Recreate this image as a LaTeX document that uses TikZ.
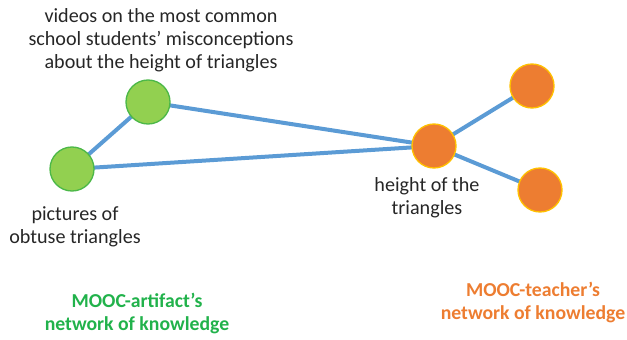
\documentclass[tikz,border=0pt]{standalone}
\usepackage{fontspec}
\setmainfont{Carlito}
\usepackage{xcolor}
\usetikzlibrary{positioning}
\definecolor{kgreen}{HTML}{92D050}
\definecolor{kgreenline}{HTML}{4CB848}
\definecolor{korange}{HTML}{ED7D31}
\definecolor{kgold}{HTML}{FFC000}
\definecolor{kblue}{HTML}{5B9BD5}
\definecolor{ktitlegreen}{HTML}{21B24B}

\begin{document}
\begin{tikzpicture}[x=0.75pt,y=-0.75pt,
    font=\fontsize{15.1}{17.25}\selectfont,
    art/.style={circle,fill=kgreen,draw=kgreenline,line width=1pt,minimum size=33pt,inner sep=0pt},
    tea/.style={circle,fill=korange,draw=kgold,line width=1pt,minimum size=33pt,inner sep=0pt},
    link/.style={kblue,line width=3pt},
    txt/.style={align=center,text=black!85,inner sep=0pt}]
  \useasboundingbox (0,0) rectangle (627,339);
  % links go first so the circles sit on top
  \coordinate (p1) at (148,102);
  \coordinate (p2) at (72,169);
  \coordinate (p3) at (434,146);
  \coordinate (p4) at (532,86);
  \coordinate (p5) at (540,190);
  \draw[link] (p1) -- (p2);
  \draw[link] (p1) -- (p3);
  \draw[link] (p2) -- (p3);
  \draw[link] (p3) -- (p4);
  \draw[link] (p3) -- (p5);
  % artifact network
  \node[art] (videos) at (p1) {};
  \node[art] (pictures) at (p2) {};
  % teacher network
  \node[tea] (height) at (p3) {};
  \node[tea] (upper) at (p4) {};
  \node[tea] (lower) at (p5) {};
  % labels
  \node[txt] (videoslbl) at (161,40) {videos on the most common\\school students’ misconceptions\\about the height of triangles};
  \node[txt] (pictureslbl) at (75,227) {pictures of\\obtuse triangles};
  \node[txt] (heightlbl) at (427,198) {height of the\\triangles};
  \node[txt,text=ktitlegreen,font=\fontsize{14.8}{17.25}\selectfont\bfseries] (artnet) at (137,313) {MOOC-artifact’s\\network of knowledge};
  \node[txt,text=korange,font=\fontsize{14.8}{17.25}\selectfont\bfseries] (teanet) at (533,302) {MOOC-teacher’s\\network of knowledge};
\end{tikzpicture}
\end{document}
